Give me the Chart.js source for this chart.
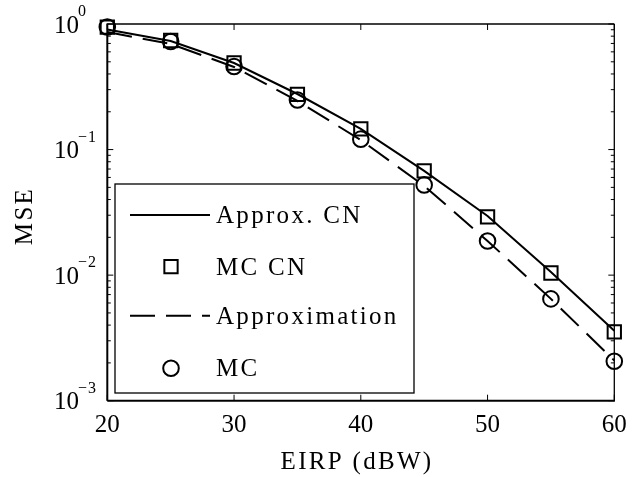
<!DOCTYPE html>
<html><head><meta charset="utf-8">
<script src="https://cdn.jsdelivr.net/npm/chart.js@4"></script>
<style>html,body{margin:0;padding:0;background:#fff}#wrap{width:643px;height:477px;background:#fff}</style>
</head><body><div id="wrap"><canvas id="c" width="643" height="477"></canvas></div>
<script>
// ---- data ----
const eirp = [20, 25, 30, 35, 40, 45, 50, 55, 60];
const approxCN = [0.904, 0.732, 0.489, 0.277, 0.146, 0.0676, 0.0296, 0.0106, 0.0036];
const mcCN = [0.946, 0.739, 0.489, 0.275, 0.146, 0.0676, 0.0291, 0.0104, 0.00353];
const approximation = [0.863, 0.693, 0.455, 0.244, 0.119, 0.0514, 0.0187, 0.00647, 0.00209];
const mc = [0.946, 0.726, 0.459, 0.248, 0.121, 0.0523, 0.0187, 0.00647, 0.00206];
const xTicks = [20, 30, 40, 50, 60];
const yTickExponents = [0, -1, -2, -3];
const xTitle = 'EIRP (dBW)';
const yTitle = 'MSE';
const seriesLabels = ['Approx. CN', 'MC CN', 'Approximation', 'MC'];

const FONT = '"Liberation Serif", "Times New Roman", serif';
const toXY = arr => eirp.map((x, i) => ({ x: x, y: arr[i] }));

function seg(ctx, x1, y1, x2, y2) { ctx.beginPath(); ctx.moveTo(x1, y1); ctx.lineTo(x2, y2); ctx.stroke(); }

const decorPlugin = {
  id: 'decor',
  afterDatasetsDraw(chart) {
    const ctx = chart.ctx, a = chart.chartArea, xs = chart.scales.x, ys = chart.scales.y;
    ctx.save();
    ctx.strokeStyle = '#000';
    ctx.fillStyle = '#000';
    ctx.setLineDash([]);
    // x ticks (inward, bottom and top)
    ctx.lineWidth = 1;
    xTicks.forEach(v => {
      const px = xs.getPixelForValue(v);
      seg(ctx, px, a.bottom, px, a.bottom - 6);
      seg(ctx, px, a.top, px, a.top + 6);
    });
    // y ticks: majors and log minors, on left and right
    yTickExponents.forEach(e => {
      const py = ys.getPixelForValue(Math.pow(10, e));
      seg(ctx, a.left, py, a.left + 6, py);
      seg(ctx, a.right, py, a.right - 6, py);
      if (e > Math.min(...yTickExponents)) {
        for (let k = 2; k <= 9; k++) {
          const pm = ys.getPixelForValue(k * Math.pow(10, e - 1));
          seg(ctx, a.left, pm, a.left + 3.5, pm);
          seg(ctx, a.right, pm, a.right - 3.5, pm);
        }
      }
    });
    // axes box
    ctx.lineWidth = 1.3;
    seg(ctx, a.left, a.top, a.right, a.top);
    seg(ctx, a.right, a.top, a.right, a.bottom);
    ctx.lineWidth = 2;
    seg(ctx, a.left, a.bottom, a.right + 0.6, a.bottom);
    seg(ctx, a.left, a.top - 0.6, a.left, a.bottom);

    // x tick labels
    ctx.font = '25px ' + FONT;
    ctx.letterSpacing = '0px';
    ctx.textAlign = 'center';
    ctx.textBaseline = 'alphabetic';
    xTicks.forEach(v => {
      ctx.fillText(String(v), xs.getPixelForValue(v), 432);
    });
    // y tick labels 10^e
    yTickExponents.forEach(e => {
      const py = ys.getPixelForValue(Math.pow(10, e));
      ctx.font = '25px ' + FONT;
      ctx.textAlign = 'left';
      ctx.fillText('10', 54, py + 8.7);
      ctx.font = '16px ' + FONT;
      const sup = e < 0 ? '\u2212' + String(-e) : String(e);
      ctx.letterSpacing = '1px';
      ctx.fillText(sup, 78, py - 8);
      ctx.letterSpacing = '0px';
    });
    // axis titles
    ctx.font = '25px ' + FONT;
    ctx.letterSpacing = '2.3px';
    ctx.textAlign = 'center';
    ctx.fillText(xTitle, 357, 469);
    ctx.save();
    ctx.translate(23.5, 216);
    ctx.rotate(-Math.PI / 2);
    ctx.fillText(yTitle, 0, 8.5);
    ctx.restore();

    // legend box
    const L = 115, T = 184, R = 414, B = 393;
    ctx.fillStyle = '#fff';
    ctx.fillRect(L, T, R - L, B - T);
    ctx.lineWidth = 1.3;
    ctx.strokeRect(L, T, R - L, B - T);
    ctx.fillStyle = '#000';
    const rows = [215, 266.7, 315.7, 368.3];
    chart.data.datasets.forEach((ds, i) => {
      const ry = rows[i];
      ctx.strokeStyle = '#000';
      if (ds.showLine !== false) {
        ctx.lineWidth = ds.borderWidth;
        ctx.setLineDash(ds.borderDash || []);
        seg(ctx, 130, ry, 210, ry);
        ctx.setLineDash([]);
      } else {
        ctx.lineWidth = ds.pointBorderWidth;
        ctx.beginPath();
        if (ds.pointStyle === 'rect') {
          const h = ds.pointRadius * Math.SQRT1_2;
          ctx.rect(171 - h, ry - h, 2 * h, 2 * h);
        } else {
          ctx.arc(171, ry, ds.pointRadius, 0, Math.PI * 2);
        }
        ctx.stroke();
      }
      ctx.font = '25px ' + FONT;
      ctx.letterSpacing = '2.3px';
      ctx.textAlign = 'left';
      ctx.fillText(ds.label, 216, ry + 8);
    });
    ctx.restore();
  }
};

new Chart(document.getElementById('c').getContext('2d'), {
  type: 'line',
  data: {
    datasets: [
      { label: seriesLabels[0], data: toXY(approxCN), borderColor: '#000', borderWidth: 2,
        pointRadius: 0, pointHitRadius: 0, fill: false, tension: 0, clip: false },
      { label: seriesLabels[1], data: toXY(mcCN), showLine: false, pointStyle: 'rect',
        pointRadius: 9.4, pointBorderWidth: 2, pointBorderColor: '#000',
        pointBackgroundColor: 'rgba(0,0,0,0)', clip: false },
      { label: seriesLabels[2], data: toXY(approximation), borderColor: '#000', borderWidth: 2,
        borderDash: [25, 11], pointRadius: 0, pointHitRadius: 0, fill: false, tension: 0, clip: false },
      { label: seriesLabels[3], data: toXY(mc), showLine: false, pointStyle: 'circle',
        pointRadius: 7.8, pointBorderWidth: 2, pointBorderColor: '#000',
        pointBackgroundColor: 'rgba(0,0,0,0)', clip: false }
    ]
  },
  options: {
    responsive: false,
    animation: false,
    devicePixelRatio: 1,
    layout: { padding: { top: 24, right: 28.7, left: 0, bottom: 0 } },
    plugins: { legend: { display: false }, tooltip: { enabled: false } },
    scales: {
      x: { type: 'linear', min: 20, max: 60,
           ticks: { display: false }, grid: { display: false }, border: { display: false },
           afterFit(s) { s.height = 76.3; } },
      y: { type: 'logarithmic', min: 0.001, max: 1,
           ticks: { display: false }, grid: { display: false }, border: { display: false },
           afterFit(s) { s.width = 107.3; } }
    }
  },
  plugins: [decorPlugin]
});
</script>
</body></html>
